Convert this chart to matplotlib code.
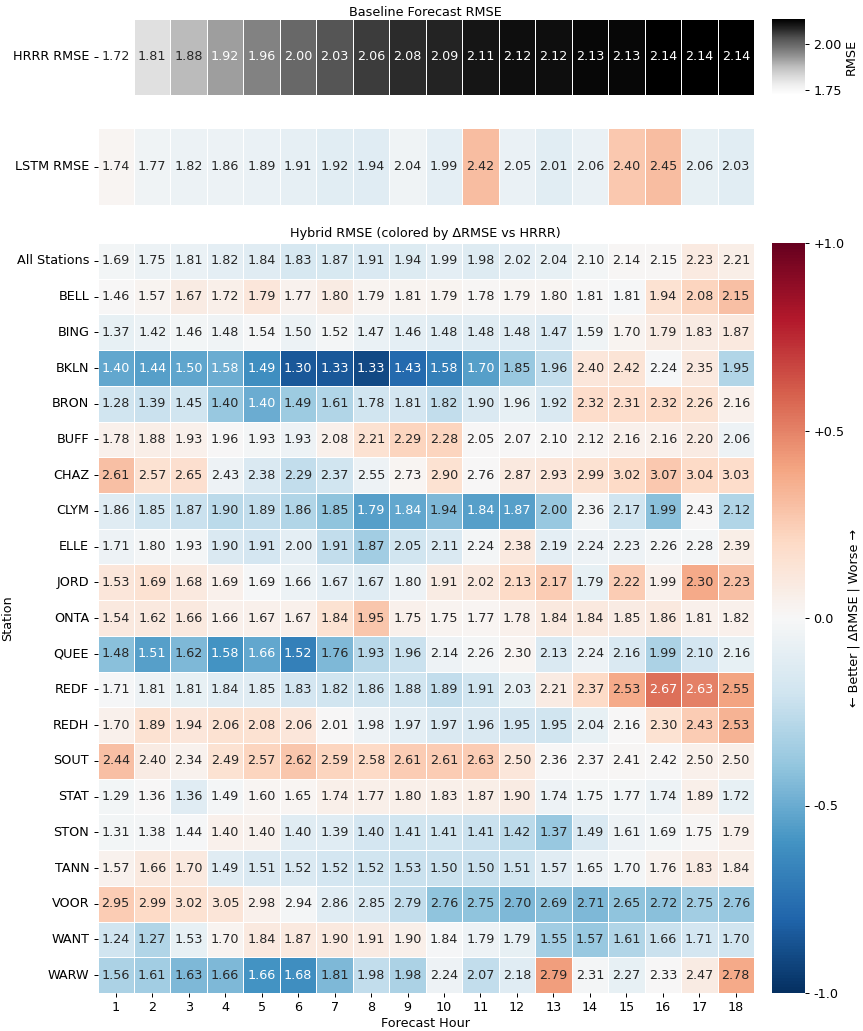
import numpy as np
import matplotlib
matplotlib.use("Agg")
import matplotlib.pyplot as plt
import seaborn as sns

hours = list(range(1, 19))
hrrr_rmse = [1.72, 1.81, 1.88, 1.92, 1.96, 2.00, 2.03, 2.06, 2.08, 2.09, 2.11, 2.12, 2.12, 2.13, 2.13, 2.14, 2.14, 2.14]
lstm_rmse = [1.74, 1.77, 1.82, 1.86, 1.89, 1.91, 1.92, 1.94, 2.04, 1.99, 2.42, 2.05, 2.01, 2.06, 2.40, 2.45, 2.06, 2.03]

stations = ["All Stations", "BELL", "BING", "BKLN", "BRON", "BUFF", "CHAZ", "CLYM", "ELLE", "JORD",
            "ONTA", "QUEE", "REDF", "REDH", "SOUT", "STAT", "STON", "TANN", "VOOR", "WANT", "WARW"]

hybrid_all = [1.69, 1.75, 1.81, 1.82, 1.84, 1.83, 1.87, 1.91, 1.94, 1.99, 1.98, 2.02, 2.04, 2.10, 2.14, 2.15, 2.23, 2.21]
hybrid_bell = [1.46, 1.57, 1.67, 1.72, 1.79, 1.77, 1.80, 1.79, 1.81, 1.79, 1.78, 1.79, 1.80, 1.81, 1.81, 1.94, 2.08, 2.15]
hybrid_bing = [1.37, 1.42, 1.46, 1.48, 1.54, 1.50, 1.52, 1.47, 1.46, 1.48, 1.48, 1.48, 1.47, 1.59, 1.70, 1.79, 1.83, 1.87]
hybrid_bkln = [1.40, 1.44, 1.50, 1.58, 1.49, 1.30, 1.33, 1.33, 1.43, 1.58, 1.70, 1.85, 1.96, 2.40, 2.42, 2.24, 2.35, 1.95]
hybrid_bron = [1.28, 1.39, 1.45, 1.40, 1.40, 1.49, 1.61, 1.78, 1.81, 1.82, 1.90, 1.96, 1.92, 2.32, 2.31, 2.32, 2.26, 2.16]
hybrid_buff = [1.78, 1.88, 1.93, 1.96, 1.93, 1.93, 2.08, 2.21, 2.29, 2.28, 2.05, 2.07, 2.10, 2.12, 2.16, 2.16, 2.20, 2.06]
hybrid_chaz = [2.61, 2.57, 2.65, 2.43, 2.38, 2.29, 2.37, 2.55, 2.73, 2.90, 2.76, 2.87, 2.93, 2.99, 3.02, 3.07, 3.04, 3.03]
hybrid_clym = [1.86, 1.85, 1.87, 1.90, 1.89, 1.86, 1.85, 1.79, 1.84, 1.94, 1.84, 1.87, 2.00, 2.36, 2.17, 1.99, 2.43, 2.12]
hybrid_elle = [1.71, 1.80, 1.93, 1.90, 1.91, 2.00, 1.91, 1.87, 2.05, 2.11, 2.24, 2.38, 2.19, 2.24, 2.23, 2.26, 2.28, 2.39]
hybrid_jord = [1.53, 1.69, 1.68, 1.69, 1.69, 1.66, 1.67, 1.67, 1.80, 1.91, 2.02, 2.13, 2.17, 1.79, 2.22, 1.99, 2.30, 2.23]
hybrid_onta = [1.54, 1.62, 1.66, 1.66, 1.67, 1.67, 1.84, 1.95, 1.75, 1.75, 1.77, 1.78, 1.84, 1.84, 1.85, 1.86, 1.81, 1.82]
hybrid_quee = [1.48, 1.51, 1.62, 1.58, 1.66, 1.52, 1.76, 1.93, 1.96, 2.14, 2.26, 2.30, 2.13, 2.24, 2.16, 1.99, 2.10, 2.16]
hybrid_redf = [1.71, 1.81, 1.81, 1.84, 1.85, 1.83, 1.82, 1.86, 1.88, 1.89, 1.91, 2.03, 2.21, 2.37, 2.53, 2.67, 2.63, 2.55]
hybrid_redh = [1.70, 1.89, 1.94, 2.06, 2.08, 2.06, 2.01, 1.98, 1.97, 1.97, 1.96, 1.95, 1.95, 2.04, 2.16, 2.30, 2.43, 2.53]
hybrid_sout = [2.44, 2.40, 2.34, 2.49, 2.57, 2.62, 2.59, 2.58, 2.61, 2.61, 2.63, 2.50, 2.36, 2.37, 2.41, 2.42, 2.50, 2.50]
hybrid_stat = [1.29, 1.36, 1.36, 1.49, 1.60, 1.65, 1.74, 1.77, 1.80, 1.83, 1.87, 1.90, 1.74, 1.75, 1.77, 1.74, 1.89, 1.72]
hybrid_ston = [1.31, 1.38, 1.44, 1.40, 1.40, 1.40, 1.39, 1.40, 1.41, 1.41, 1.41, 1.42, 1.37, 1.49, 1.61, 1.69, 1.75, 1.79]
hybrid_tann = [1.57, 1.66, 1.70, 1.49, 1.51, 1.52, 1.52, 1.52, 1.53, 1.50, 1.50, 1.51, 1.57, 1.65, 1.70, 1.76, 1.83, 1.84]
hybrid_voor = [2.95, 2.99, 3.02, 3.05, 2.98, 2.94, 2.86, 2.85, 2.79, 2.76, 2.75, 2.70, 2.69, 2.71, 2.65, 2.72, 2.75, 2.76]
hybrid_want = [1.24, 1.27, 1.53, 1.70, 1.84, 1.87, 1.90, 1.91, 1.90, 1.84, 1.79, 1.79, 1.55, 1.57, 1.61, 1.66, 1.71, 1.70]
hybrid_warw = [1.56, 1.61, 1.63, 1.66, 1.66, 1.68, 1.81, 1.98, 1.98, 2.24, 2.07, 2.18, 2.79, 2.31, 2.27, 2.33, 2.47, 2.78]

# Estimated station ΔRMSE vs station HRRR
delta_bell = [0.00, 0.03, 0.08, 0.06, 0.12, 0.04, 0.08, 0.03, 0.03, 0.03, 0.01, 0.02, 0.02, 0.00, -0.01, 0.15, 0.22, 0.30]
delta_bing = [-0.08, -0.06, -0.03, -0.04, -0.01, -0.06, -0.02, -0.07, -0.10, -0.12, -0.12, -0.12, -0.15, -0.04, 0.03, 0.08, 0.08, 0.10]
delta_bkln = [-0.52, -0.55, -0.53, -0.50, -0.62, -0.85, -0.85, -0.90, -0.78, -0.68, -0.55, -0.38, -0.25, 0.12, 0.14, -0.01, 0.10, -0.30]
delta_bron = [-0.20, -0.22, -0.20, -0.38, -0.50, -0.36, -0.30, -0.20, -0.18, -0.25, -0.15, -0.08, -0.15, 0.18, 0.18, 0.20, 0.15, 0.05]
delta_buff = [0.05, 0.07, 0.05, 0.00, -0.02, -0.05, 0.05, 0.15, 0.22, 0.22, 0.00, 0.00, 0.00, 0.02, 0.05, 0.05, 0.08, -0.05]
delta_chaz = [0.30, 0.15, 0.17, -0.05, -0.15, -0.25, -0.20, -0.05, 0.02, 0.15, 0.00, 0.10, 0.12, 0.15, 0.20, 0.27, 0.20, 0.18]
delta_clym = [-0.12, -0.20, -0.22, -0.27, -0.25, -0.30, -0.40, -0.55, -0.52, -0.45, -0.55, -0.55, -0.38, -0.02, -0.20, -0.42, 0.00, -0.30]
delta_elle = [-0.05, -0.02, -0.02, -0.15, -0.18, -0.10, -0.25, -0.35, -0.20, -0.15, -0.02, 0.10, -0.10, -0.05, -0.05, -0.02, -0.02, 0.07]
delta_jord = [0.12, 0.15, 0.10, 0.05, -0.01, -0.06, -0.10, -0.12, -0.05, 0.08, 0.10, 0.20, 0.25, -0.08, 0.25, 0.05, 0.38, 0.30]
delta_onta = [0.10, 0.10, 0.10, 0.05, 0.05, 0.05, 0.15, 0.28, 0.05, 0.03, 0.02, 0.05, 0.10, 0.10, 0.08, 0.10, 0.05, 0.05]
delta_quee = [-0.42, -0.55, -0.45, -0.60, -0.52, -0.68, -0.45, -0.28, -0.22, -0.05, -0.02, 0.02, -0.15, -0.05, -0.15, -0.32, -0.18, -0.08]
delta_redf = [-0.01, -0.05, -0.08, -0.12, -0.12, -0.18, -0.20, -0.20, -0.20, -0.25, -0.20, -0.08, 0.08, 0.20, 0.38, 0.55, 0.50, 0.40]
delta_redh = [0.05, 0.15, 0.12, 0.15, 0.15, 0.12, 0.00, -0.05, -0.10, -0.15, -0.15, -0.18, -0.20, -0.08, 0.00, 0.15, 0.25, 0.35]
delta_sout = [0.30, 0.08, 0.04, 0.15, 0.22, 0.28, 0.22, 0.20, 0.25, 0.25, 0.25, 0.12, 0.00, 0.00, 0.01, 0.00, 0.05, 0.06]
delta_stat = [-0.03, 0.00, -0.12, -0.02, 0.02, 0.02, 0.06, 0.06, 0.06, 0.06, 0.07, 0.08, -0.05, -0.03, -0.03, -0.06, 0.06, -0.08]
delta_ston = [-0.03, -0.02, -0.01, 0.05, 0.04, -0.12, -0.12, -0.18, -0.20, -0.20, -0.22, -0.27, -0.38, -0.15, -0.05, -0.03, 0.01, 0.05]
delta_tann = [0.04, 0.10, 0.10, -0.12, -0.15, -0.15, -0.18, -0.20, -0.22, -0.22, -0.22, -0.20, -0.12, -0.05, -0.02, 0.04, 0.08, 0.07]
delta_voor = [0.25, 0.20, 0.15, 0.13, 0.05, -0.02, -0.12, -0.15, -0.25, -0.40, -0.40, -0.45, -0.42, -0.45, -0.40, -0.42, -0.35, -0.38]
delta_want = [-0.20, -0.30, -0.08, 0.03, 0.10, 0.10, 0.10, 0.08, 0.06, -0.01, -0.05, -0.08, -0.35, -0.38, -0.30, -0.22, -0.18, -0.20]
delta_warw = [-0.32, -0.35, -0.45, -0.45, -0.60, -0.62, -0.45, -0.25, -0.32, -0.05, -0.25, -0.12, 0.42, -0.02, -0.08, 0.00, 0.08, 0.38]

hybrid = np.array([hybrid_all, hybrid_bell, hybrid_bing, hybrid_bkln, hybrid_bron, hybrid_buff, hybrid_chaz,
                   hybrid_clym, hybrid_elle, hybrid_jord, hybrid_onta, hybrid_quee, hybrid_redf, hybrid_redh,
                   hybrid_sout, hybrid_stat, hybrid_ston, hybrid_tann, hybrid_voor, hybrid_want, hybrid_warw])
delta_all = list(np.array(hybrid_all) - np.array(hrrr_rmse))
delta = np.array([delta_all, delta_bell, delta_bing, delta_bkln, delta_bron, delta_buff, delta_chaz,
                  delta_clym, delta_elle, delta_jord, delta_onta, delta_quee, delta_redf, delta_redh,
                  delta_sout, delta_stat, delta_ston, delta_tann, delta_voor, delta_want, delta_warw])

hrrr = np.array([hrrr_rmse])
lstm = np.array([lstm_rmse])
lstm_delta = lstm - hrrr

FS = 9.2
plt.rcParams.update({
    "font.size": FS,
    "xtick.major.size": 3.0, "ytick.major.size": 3.0,
    "xtick.major.width": 0.72, "ytick.major.width": 0.72,
    "xtick.major.pad": 3.0, "ytick.major.pad": 3.0,
})

W, H = 863, 1031
fig = plt.figure(figsize=(W / 100, H / 100), dpi=100)

def ax_px(x0, y0, x1, y1):
    return fig.add_axes([x0 / W, 1 - y1 / H, (x1 - x0) / W, (y1 - y0) / H])

ax1 = ax_px(97.5, 19, 754, 95)
cax1 = ax_px(772, 19, 805, 95)
ax2 = ax_px(97.5, 128, 754, 205)
ax3 = ax_px(97.5, 243, 754, 993)
cax3 = ax_px(772, 243, 805, 993)

annot_kw = {"fontsize": FS}

sns.heatmap(hrrr, ax=ax1, cmap="Greys", annot=True, fmt=".2f", linewidths=0.5, linecolor="white",
            cbar_ax=cax1, annot_kws=annot_kw, xticklabels=False, yticklabels=["HRRR RMSE"])
ax1.set_title("Baseline Forecast RMSE", fontsize=FS, pad=2.5)
cb1 = ax1.collections[0].colorbar
cb1.set_ticks([1.75, 2.00])
cb1.set_ticklabels(["1.75", "2.00"])
cb1.ax.tick_params(labelsize=FS)
cb1.set_label("RMSE", fontsize=FS, labelpad=2)

sns.heatmap(lstm_delta, ax=ax2, cmap="RdBu_r", vmin=-1, vmax=1, annot=lstm, fmt=".2f", linewidths=0.5,
            linecolor="white", cbar=False, annot_kws=annot_kw, xticklabels=False, yticklabels=["LSTM RMSE"])

sns.heatmap(delta, ax=ax3, cmap="RdBu_r", vmin=-1, vmax=1, annot=hybrid, fmt=".2f", linewidths=0.5,
            linecolor="white", cbar_ax=cax3, annot_kws=annot_kw, xticklabels=hours, yticklabels=stations)
ax3.set_title("Hybrid RMSE (colored by \u0394RMSE vs HRRR)", fontsize=FS, pad=4)
ax3.set_xlabel("Forecast Hour", fontsize=FS, labelpad=2)
ax3.set_ylabel("Station", fontsize=FS, labelpad=2)
cb3 = ax3.collections[0].colorbar
cb3.set_ticks([-1.0, -0.5, 0.0, 0.5, 1.0])
cb3.set_ticklabels(["-1.0", "-0.5", "0.0", "+0.5", "+1.0"])
cb3.ax.tick_params(labelsize=FS)
cb3.set_label("\u2190 Better | \u0394RMSE | Worse \u2192", fontsize=FS, labelpad=2)

for ax in (ax1, ax2, ax3):
    ax.tick_params(axis="y", labelsize=FS, rotation=0)
    ax.tick_params(axis="x", labelsize=FS, rotation=0)

fig.savefig("out.png", dpi=100)
